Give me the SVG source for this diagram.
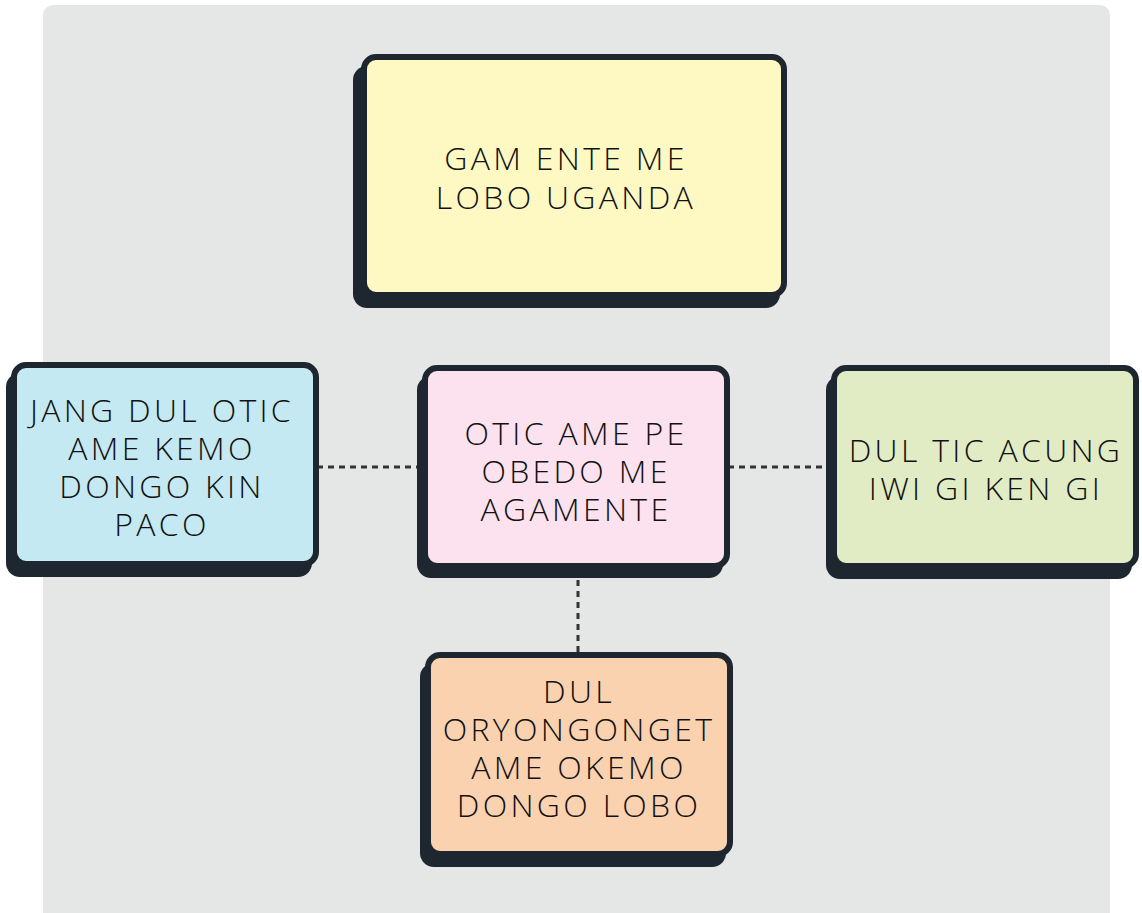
<svg xmlns="http://www.w3.org/2000/svg" width="1142" height="913" viewBox="0 0 1142 913">
<style>
.shadow{fill:#1e2730}
.box{stroke:#1e2730;stroke-width:6}
.lbl{font-family:"Open Sans","Liberation Sans",sans-serif;font-size:32px;font-weight:300;letter-spacing:3.3px;fill:#111;text-anchor:middle}
.conn{stroke:#333;stroke-width:3;stroke-dasharray:6 5;fill:none}
</style>
<rect x="43" y="5" width="1067" height="920" rx="10" fill="#e5e7e6"/>
<g id="connectors">
<line class="conn" x1="317" y1="467" x2="420" y2="467"/>
<line class="conn" x1="728" y1="467" x2="828" y2="467"/>
<line class="conn" x1="578" y1="580" x2="578" y2="653"/>
</g>
<g id="node-top">
<rect class="shadow" x="353" y="66" width="427" height="242" rx="14"/>
<rect class="box" x="364" y="57" width="420" height="238" rx="12" fill="#fef9c3"/>
<text class="lbl" x="566" y="170">GAM ENTE ME</text>
<text class="lbl" x="566" y="209">LOBO UGANDA</text>
</g>
<g id="node-left">
<rect class="shadow" x="6" y="373" width="306" height="204" rx="14"/>
<rect class="box" x="14" y="365" width="302" height="199" rx="12" fill="#c5e9f3"/>
<text class="lbl" x="162" y="422">JANG DUL OTIC</text>
<text class="lbl" x="162" y="460">AME KEMO</text>
<text class="lbl" x="162" y="498">DONGO KIN</text>
<text class="lbl" x="162" y="536">PACO</text>
</g>
<g id="node-center">
<rect class="shadow" x="417" y="376" width="306" height="202" rx="14"/>
<rect class="box" x="425" y="368" width="302" height="198" rx="12" fill="#fbe2ee"/>
<text class="lbl" x="576" y="445">OTIC AME PE</text>
<text class="lbl" x="576" y="483">OBEDO ME</text>
<text class="lbl" x="576" y="521">AGAMENTE</text>
</g>
<g id="node-right">
<rect class="shadow" x="826" y="376" width="306" height="203" rx="14"/>
<rect class="box" x="834" y="368" width="302" height="198" rx="12" fill="#e1ecc4"/>
<text class="lbl" x="986" y="462">DUL TIC ACUNG</text>
<text class="lbl" x="986" y="500">IWI GI KEN GI</text>
</g>
<g id="node-bottom">
<rect class="shadow" x="420" y="663" width="306" height="204" rx="14"/>
<rect class="box" x="428" y="655" width="302" height="199" rx="12" fill="#fbd2b0"/>
<text class="lbl" x="579" y="703">DUL</text>
<text class="lbl" x="579" y="741">ORYONGONGET</text>
<text class="lbl" x="579" y="779">AME OKEMO</text>
<text class="lbl" x="579" y="817">DONGO LOBO</text>
</g>
</svg>
